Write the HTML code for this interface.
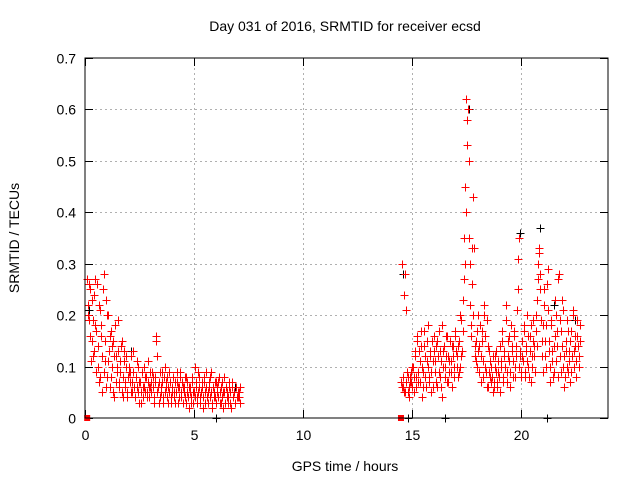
<!DOCTYPE html>
<html><head><meta charset="utf-8"><style>
body{margin:0;background:#fff}
svg{display:block;font-family:"Liberation Sans",sans-serif;font-size:14px}
</style></head><body>
<svg id="chart" width="640" height="480">
<rect x="0" y="0" width="640" height="480" fill="#fff"/>
<text x="345" y="31" text-anchor="middle">Day 031 of 2016, SRMTID for receiver ecsd</text>
<text transform="translate(19,238) rotate(-90)" text-anchor="middle">SRMTID / TECUs</text>
<text x="345" y="471" text-anchor="middle">GPS time / hours</text>
<g id="grid"></g>
<g id="ticks"></g>
<g id="marks"></g>
<rect x="85" y="58" width="523" height="360" fill="none" stroke="#000" stroke-width="1"/>
</svg>
<script>
const xTicks=[0,5,10,15,20];
const yTicks=[0,0.1,0.2,0.3,0.4,0.5,0.6,0.7];
const yTickLabels=["0","0.1","0.2","0.3","0.4","0.5","0.6","0.7"];
const s1Start=0.1, s1Step=0.05;
const s1Values=[.27,.22,.19,.25,.15,.12,.24,.18,.09,.26,.14,.07,.21,.16,.05,.28,.11,.23,.08,
.20,.13,.06,.17,.10,.15,.04,.12,.09,.19,.07,.11,.14,.05,.08,.13,.06,.10,.04,.09,
.07,.12,.05,.09,.06,.04,.08,.11,.05,.07,.03,.09,.06,.10,.05,.08,.04,.07,.06,.09,
.05,.08,.04,.07,.15,.12,.06,.03,.09,.05,.07,.04,.10,.06,.08,.03,.05,.07,.04,.06,
.08,.05,.03,.07,.06,.04,.09,.05,.07,.03,.06,.04,.08,.05,.02,.06,.04,.07,.03,.05,
.10,.06,.03,.05,.08,.04,.06,.02,.07,.05,.09,.04,.03,.06,.08,.05,.02,.04,.07,.03,
.06,.04,.08,.05,.03,.07,.02,.05,.06,.04,.03,.07,.05,.02,.06,.04,.05,.03,.06,.04,.05,.03];
const s1bStart=0.125, s1bStep=0.05;
const s1bValues=[.20,.26,.16,.11,.23,.19,.13,.27,.17,.10,.22,.08,.18,.12,.25,.09,.15,.06,.20,
.11,.16,.08,.14,.05,.12,.18,.07,.10,.13,.06,.09,.15,.04,.11,.07,.12,.05,.08,.10,
.09,.05,.07,.13,.04,.08,.06,.10,.03,.07,.05,.09,.04,.06,.08,.05,.11,.04,.06,.07,
.09,.06,.03,.08,.16,.05,.07,.04,.06,.09,.03,.08,.05,.07,.04,.06,.09,.03,.05,.08,
.04,.07,.05,.09,.03,.06,.08,.04,.06,.05,.08,.03,.07,.04,.06,.05,.03,.08,.05,.04,
.07,.04,.09,.06,.03,.05,.07,.04,.08,.03,.06,.05,.07,.04,.09,.03,.06,.05,.04,.07,
.05,.07,.03,.06,.04,.05,.08,.03,.06,.05,.04,.06,.03,.07,.04,.05,.03,.06,.04,.05,.04,.06];
const s2Start=14.5, s2Step=0.05;
const s2Values=[.07,.30,.06,.24,.05,.21,.08,.04,.07,.09,.06,
.10,.05,.13,.08,.16,.07,.11,.14,.04,.09,.17,.12,.06,.15,.10,.08,.13,.05,.11,.16,
.09,.14,.06,.12,.17,.08,.11,.04,.13,.10,.16,.07,.12,.09,.15,.11,.06,.14,.10,.17,
.12,.08,.15,.10,.19,.13,.23,.35,.45,.62,.58,.50,.30,.18,.26,.43,.33,.12,.15,.10,
.20,.14,.07,.17,.11,.22,.16,.09,.19,.06,.13,.08,.10,.05,.07,.12,.09,.06,.11,.08,
.14,.10,.17,.07,.12,.22,.09,.15,.11,.06,.18,.13,.08,.16,.10,.14,.31,.35,.12,.09,
.15,.11,.18,.08,.13,.20,.10,.16,.07,.12,.19,.14,.09,.17,.23,.30,.33,.28,.12,.18,
.25,.15,.10,.26,.21,.13,.07,.18,.11,.09,.16,.20,.14,.08,.28,.12,.17,.23,.10,.06,
.15,.19,.09,.13,.07,.17,.12,.21,.10,.14,.08,.16,.12,.18];
const s2bStart=14.525, s2bStep=0.05;
const s2bValues=[.06,.08,.05,.28,.07,.09,.05,.06,.08,.07,.10,
.08,.12,.06,.15,.09,.13,.07,.17,.10,.06,.14,.08,.11,.18,.07,.12,.09,.15,.06,.13,
.11,.07,.15,.09,.13,.06,.18,.10,.14,.08,.12,.16,.07,.11,.09,.14,.12,.08,.16,.13,
.10,.14,.09,.20,.12,.17,.27,.30,.40,.53,.60,.35,.22,.16,.33,.20,.14,.11,.17,.13,
.09,.18,.12,.15,.08,.20,.10,.06,.14,.09,.11,.07,.08,.12,.06,.10,.13,.07,.09,.05,
.11,.15,.08,.13,.10,.19,.07,.12,.16,.09,.14,.11,.17,.08,.12,.21,.25,.10,.13,.08,
.12,.17,.09,.14,.11,.16,.08,.13,.18,.10,.15,.12,.20,.14,.27,.32,.25,.19,.15,.09,
.22,.12,.18,.29,.15,.10,.19,.13,.08,.14,.23,.11,.17,.27,.19,.09,.14,.21,.12,.08,
.13,.10,.17,.11,.15,.09,.20,.13,.16,.11,.19,.14,.10,.15];
const blackTimes=[0.2,1.5,2.1,6.9,14.6,17.6,19.95,20.9,21.5,22.5,6.0,14.8,16.5,21.2];
const blackValues=[.21,.13,.13,.06,.28,.60,.36,.37,.22,.19,0,0,0,0];
const squareTimes=[0.1,14.5];
const squareValues=[0,0];

const NS="http://www.w3.org/2000/svg";
const X0=85,X1=608,Y0=418,Y1=58,XMAX=24,YMAX=0.7;
const xs=t=>X0+t*(X1-X0)/XMAX;
const ys=v=>Y0-v*(Y0-Y1)/YMAX;
function mk(tag,attrs,parent){const e=document.createElementNS(NS,tag);for(const k in attrs)e.setAttribute(k,attrs[k]);parent.appendChild(e);return e;}
const grid=document.getElementById('grid'),ticks=document.getElementById('ticks'),marks=document.getElementById('marks');
xTicks.forEach(t=>{
  const x=Math.round(xs(t))+0.5;
  if(t>0){const g=mk('line',{x1:x,x2:x,y1:Y1,y2:Y0,stroke:'#b0b0b0','stroke-dasharray':'2,3'},grid);
  
  }
  mk('line',{x1:x,x2:x,y1:Y0,y2:Y0-8,stroke:'#000'},ticks);
  mk('line',{x1:x,x2:x,y1:Y1,y2:Y1+8,stroke:'#000'},ticks);
  const l=mk('text',{x:x,y:Y0+22,'text-anchor':'middle'},ticks);l.textContent=t;
  
  
});
yTicks.forEach((v,i)=>{
  const y=Math.round(ys(v))+0.5;
  if(v>0&&v<YMAX){const g=mk('line',{x1:X0,x2:X1,y1:y,y2:y,stroke:'#b0b0b0','stroke-dasharray':'2,3'},grid);
  
  }
  mk('line',{x1:X0,x2:X0+8,y1:y,y2:y,stroke:'#000'},ticks);
  mk('line',{x1:X1,x2:X1-8,y1:y,y2:y,stroke:'#000'},ticks);
  const l=mk('text',{x:X0-9,y:y+5,'text-anchor':'end'},ticks);l.textContent=yTickLabels[i];
  
  
});
function plus(t,v,color,name){
  const x=Math.round(xs(t))+0.5,y=Math.round(ys(v))+0.5;
  const p=mk('path',{d:`M${x-4},${y}h8M${x},${y-4}v8`,stroke:color,'stroke-width':1,fill:'none'},marks);
  
  
}
blackTimes.forEach((t,i)=>plus(t,blackValues[i],'#000','black-point'));
s1Values.forEach((v,i)=>plus(s1Start+i*s1Step,v,'#ff0000','red-point'));
s1bValues.forEach((v,i)=>plus(s1bStart+i*s1bStep,v,'#ff0000','red-point'));
s2Values.forEach((v,i)=>plus(s2Start+i*s2Step,v,'#ff0000','red-point'));
s2bValues.forEach((v,i)=>plus(s2bStart+i*s2bStep,v,'#ff0000','red-point'));
squareTimes.forEach((t,i)=>{
  const r=mk('rect',{x:xs(t)-3,y:ys(squareValues[i])-3,width:6,height:6,fill:'#ff0000'},marks);
  
  
});
</script>
</body></html>
